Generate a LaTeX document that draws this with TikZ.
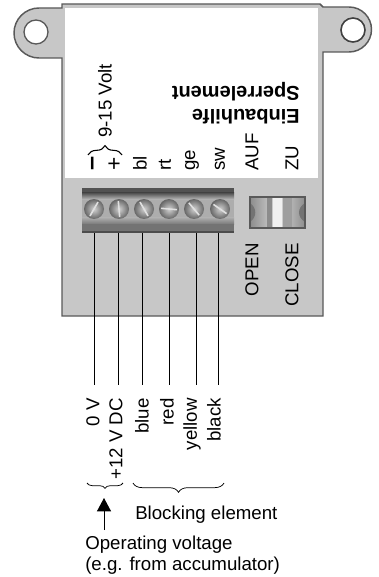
\documentclass[tikz,border=0pt]{standalone}
\usepackage{fontspec}
\setmainfont{Liberation Sans}
\usetikzlibrary{arrows.meta,calc,decorations.pathreplacing}
\definecolor{plate}{gray}{0.78}
\definecolor{edge}{gray}{0.35}
\tikzset{
  label up/.style={rotate=90, anchor=west, inner sep=0pt, font=\fontsize{14}{14}\selectfont},
  label down/.style={rotate=90, anchor=east, inner sep=0pt, font=\fontsize{14}{14}\selectfont},
  plain text/.style={anchor=west, inner sep=0pt, font=\fontsize{14}{14}\selectfont},
  flipped text/.style={rotate=180, anchor=west, inner sep=0pt, font=\bfseries\fontsize{15}{15}\selectfont},
  screw/.style={circle, minimum size=15pt, inner sep=0pt, inner color=black!18, outer color=black!60},
  thin brace/.style={decorate, decoration={brace, amplitude=#1}, line width=0.55pt},
}
\begin{document}
\begin{tikzpicture}[x=0.75pt, y=-0.75pt]
\useasboundingbox (0,0) rectangle (378,577);
% Draw plate and ears
\draw[edge, line width=1.1pt, fill=plate] (62,8) -- (39,8) arc[start angle=-90, end angle=-270, radius=25] -- (62,58) -- (62,316) -- (323,316) -- (323,52) -- (349,52) arc[start angle=90, end angle=-90, radius=22.5] -- (323,7) -- (320,4) -- (62,4) -- cycle;
\node[circle, draw=edge, fill=white, line width=1pt, minimum size=18pt, inner sep=0pt] (leftHole) at (36,32) {};
\node[circle, draw=black!75, fill=white, line width=1.2pt, minimum size=18pt, inner sep=0pt] (rightHole) at (353,30) {};
% Draw white label
\fill[white] (65,8) rectangle (318,178);
% Draw terminal block
\fill[black!32] (82,188) rectangle (234,233);
\fill[black!68] (82,188) rectangle (234,193);
\shade[top color=black!68, bottom color=black!30] (82,193) rectangle (234,199);
\shade[top color=black!30, bottom color=black!52] (82,217) rectangle (234,224);
\fill[black!55] (82,224) rectangle (234,231);
\fill[black!70] (82,231) rectangle (234,233);
\foreach \name/\x/\a in {a/94/120, b/119/85, c/144/60, d/169/5, e/194/50, f/220/35} {
    \node[screw] (screw\name) at (\x,209) {};
    \draw[black!12, line width=1.2pt] ($(screw\name)+(\a:8)$) -- ($(screw\name)+(\a+180:8)$);
}
% Draw switch
\shade[left color=black!45, right color=black!45, middle color=black!15] (250,197) rectangle (305,228);
\fill[black!55] (250,203) .. controls (257,208) and (257,217) .. (250,222) -- cycle;
\fill[black!55] (305,203) .. controls (297,208) and (297,217) .. (305,222) -- cycle;
\fill[black!45] (267,198) rectangle (272,227);
\fill[black!6] (273,198) rectangle (282,227);
\fill[black!38] (283,198) rectangle (292,227);
\draw[black!65, line width=0.9pt] (250,197) rectangle (305,228);
% Draw wires
\foreach \name/\x in {a/94, b/118, c/142, d/169, e/196, f/218} {
    \coordinate (wire\name) at (\x,233);
    \coordinate (end\name) at (\x,385);
    \draw[black, line width=0.7pt] (wire\name) -- (end\name);
}
% Draw label texts
\node[label up, font=\bfseries\fontsize{19}{19}\selectfont] (minus) at (95,171) {--};
\node[label up, font=\fontsize{17}{17}\selectfont] (plus) at (115,171) {+};
\node[label up] (bl) at (140,171) {bl};
\node[label up] (rt) at (165,171) {rt};
\node[label up] (ge) at (192,171) {ge};
\node[label up] (sw) at (220,171) {sw};
\node[label up] (auf) at (252,171) {AUF};
\node[label up] (zu) at (292,171) {ZU};
\node[label up] (volt) at (105,138) {9-15 Volt};
\node[flipped text] (hilfe) at (300,117) {Einbauhilfe};
\node[flipped text] (sperr) at (300,92) {Sperrelement};
\node[label down] (open) at (252,243) {OPEN};
\node[label down] (close) at (292,243) {CLOSE};
\node[label down] (zero) at (93,398) {0 V};
\node[label down] (twelve) at (116,398) {+12 V DC};
\node[label down] (blue) at (142,398) {blue};
\node[label down] (red) at (167,398) {red};
\node[label down] (yellow) at (192,398) {yellow};
\node[label down] (black) at (214,398) {black};
\node[plain text] (blocking) at (135,515) {Blocking element};
\node[plain text] (operating) at (85,545) {Operating voltage};
\node[plain text] (accu) at (85,566) {(e.g. from accumulator)};
% Draw braces
\coordinate (voltL) at (88,155);
\coordinate (voltR) at (122,155);
\draw[thin brace=7pt, line width=0.8pt] (voltL) -- (voltR);
\coordinate (opL) at (87,483);
\coordinate (opR) at (123,483);
\draw[thin brace=4pt] (opR) -- (opL);
\coordinate (blockL) at (133,483);
\coordinate (blockR) at (224,483);
\draw[thin brace=7pt] (blockR) -- (blockL);
% Draw arrow
\coordinate (arrowEnd) at (104,530);
\coordinate (arrowTip) at (104,498);
\draw[-{Triangle[length=10pt,width=10.5pt]}, line width=0.7pt] (arrowEnd) -- (arrowTip);
\end{tikzpicture}
\end{document}
